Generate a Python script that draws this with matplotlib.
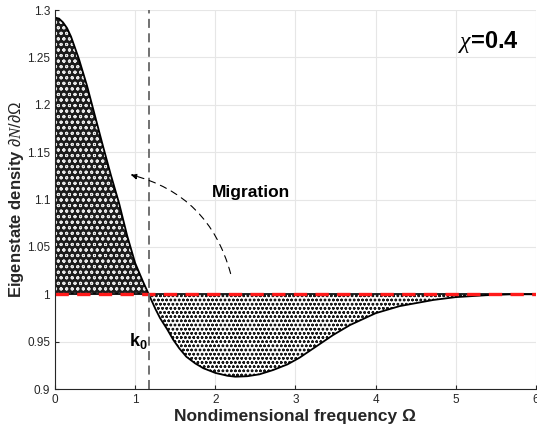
import matplotlib
matplotlib.use("Agg")
import matplotlib.pyplot as plt
import numpy as np

plt.rcParams.update({
    "font.family": ["Liberation Sans", "DejaVu Sans"],
    "mathtext.fontset": "custom",
    "mathtext.rm": "Liberation Sans",
    "mathtext.bf": "Liberation Sans:bold",
    "mathtext.it": "Liberation Serif:italic",
    "hatch.linewidth": 0.7,
})

# curve
omega = [0, 0.05, 0.1, 0.15, 0.2, 0.3, 0.4, 0.5, 0.6, 0.7, 0.8, 0.9, 1.0,
         1.1, 1.17, 1.25, 1.31, 1.4, 1.475, 1.55, 1.64, 1.75, 1.85, 2.0,
         2.15, 2.25, 2.4, 2.55, 2.72, 2.9, 3.05, 3.26, 3.47, 3.68, 4.0, 4.3,
         4.72, 5.0, 5.38, 5.7, 6.0]
density = [1.292, 1.291, 1.287, 1.281, 1.272, 1.248, 1.220, 1.188, 1.156,
           1.125, 1.096, 1.062, 1.033, 1.013, 1.000, 0.985, 0.975, 0.963,
           0.952, 0.943, 0.934, 0.927, 0.922, 0.917, 0.914, 0.913, 0.9135,
           0.9155, 0.920, 0.926, 0.933, 0.945, 0.957, 0.9675, 0.980, 0.9875,
           0.994, 0.997, 0.999, 1.0, 1.0]
k0 = 1.17
baseline = 1.0
chi = 0.4

xticks = [0, 1, 2, 3, 4, 5, 6]
yticks = [0.9, 0.95, 1.0, 1.05, 1.1, 1.15, 1.2, 1.25, 1.3]
ytick_labels = ["0.9", "0.95", "1", "1.05", "1.1", "1.15", "1.2", "1.25", "1.3"]

x = np.array(omega)
y = np.array(density)

fig = plt.figure(figsize=(5.37, 4.37), dpi=100)
ax = fig.add_axes([0.1024, 0.1098, 0.8956, 0.8672])

# stippled fills: dark with light speckles above, squiggly grey below
ax.fill_between(x, y, baseline, where=y >= baseline, interpolate=True,
                facecolor="#1c1c1c", edgecolor="#e8e8e8", hatch="ooo", lw=0)
ax.fill_between(x, y, baseline, where=y <= baseline, interpolate=True,
                facecolor="white", edgecolor="#1a1a1a", hatch="oooo", lw=0)

ax.plot(x, y, color="black", lw=1.3)
ax.axhline(baseline, color="black", lw=1.2)
ax.axhline(baseline, color="#ff1a1a", lw=2.4, dashes=(4, 2.5))
ax.axvline(k0, color="#666666", lw=1.3, dashes=(5, 3))

ax.annotate("", xy=(0.91, 1.127), xytext=(2.2, 1.019),
            arrowprops=dict(arrowstyle="-|>", color="black", lw=0.8,
                            linestyle=(0, (6, 5)), mutation_scale=9,
                            connectionstyle="arc3,rad=0.3"))
ax.text(2.44, 1.107, "Migration", fontsize=12.5, fontweight="bold",
        ha="center", va="center")
ax.text(1.04, 0.951, r"$\mathbf{k_0}$", fontsize=13, ha="center", va="center")
ax.text(5.79, 1.266, r"$\chi$=" + f"{chi}", fontsize=17, fontweight="bold",
        ha="right", va="center")

ax.set_xlim(0, 6)
ax.set_ylim(0.9, 1.3)
ax.set_xticks(xticks)
ax.set_yticks(yticks)
ax.set_yticklabels(ytick_labels)
ax.tick_params(direction="in", length=3, labelsize=8.5, colors="#262626",
               labelcolor="#262626")
ax.grid(True, color="#e6e6e6", lw=0.8)
ax.set_axisbelow(True)
for s in ["top", "right"]:
    ax.spines[s].set_visible(False)
for s in ["left", "bottom"]:
    ax.spines[s].set_color("#262626")
ax.set_xlabel("Nondimensional frequency Ω", fontsize=12.5, fontweight="bold",
              color="#262626", labelpad=2)
ax.set_ylabel(r"Eigenstate density $\partial N/\partial\Omega$", fontsize=12,
              fontweight="bold", color="#262626", labelpad=1)

fig.savefig("out.png", dpi=100)
